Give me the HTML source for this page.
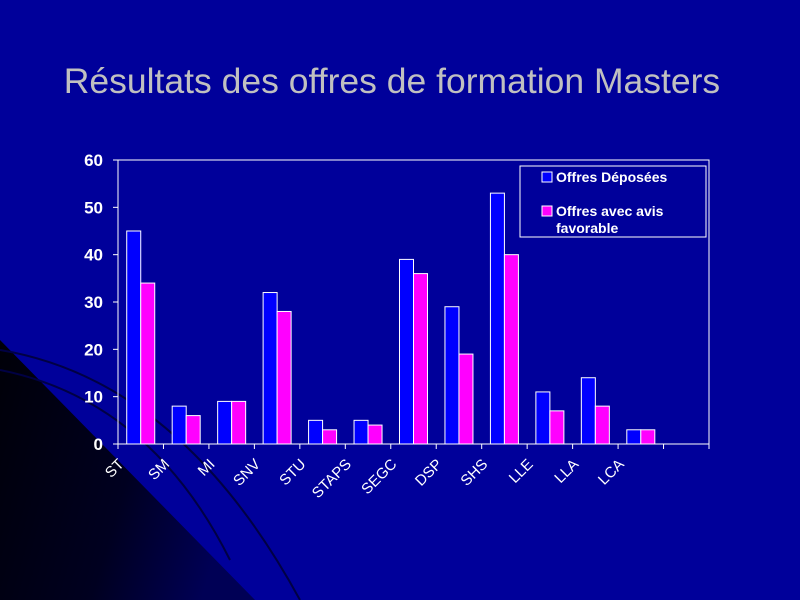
<!DOCTYPE html>
<html><head><meta charset="utf-8"><style>
body{margin:0;width:800px;height:600px;overflow:hidden;background:#000099;font-family:"Liberation Sans",sans-serif}
svg{display:block}
</style></head><body>
<svg width="800" height="600">
<defs>
<linearGradient id="tri" x1="0" y1="0" x2="1" y2="0.3">
<stop offset="0" stop-color="#000008"/><stop offset="0.6" stop-color="#000020"/><stop offset="1" stop-color="#000055"/></linearGradient>
</defs>
<rect width="800" height="600" fill="#00009a"/>
<polygon points="0,340 0,600 255,600" fill="url(#tri)"/>
<path d="M0,350 Q180,380 300,600" stroke="#000044" stroke-width="2" fill="none"/>
<path d="M0,370 Q150,400 230,560" stroke="#000044" stroke-width="2" fill="none"/>
<text x="392" y="93" font-size="35.5" fill="#c0c0c0" text-anchor="middle">Résultats des offres de formation Masters</text>
<g id="chart"></g>
<g>
<rect x="520" y="166" width="186" height="71" fill="none" stroke="#fff" stroke-width="1"/>
<rect x="542" y="172" width="10" height="10" fill="#0000ff" stroke="#fff"/>
<text x="556" y="182" font-size="14" font-weight="bold" fill="#fff">Offres Déposées</text>
<rect x="542" y="206" width="10" height="10" fill="#ff00ff" stroke="#fff"/>
<text x="556" y="216" font-size="14" font-weight="bold" fill="#fff">Offres avec avis</text>
<text x="556" y="233" font-size="14" font-weight="bold" fill="#fff">favorable</text>
</g>
</svg>
<script>
const categories=["ST","SM","MI","SNV","STU","STAPS","SEGC","DSP","SHS","LLE","LLA","LCA",""];
const deposees=[45,8,9,32,5,5,39,29,53,11,14,3,null];
const favorables=[34,6,9,28,3,4,36,19,40,7,8,3,null];
const yTicks=[0,10,20,30,40,50,60];
const L=118,R=709,T=160,B=444,yMax=60;
const band=(R-L)/categories.length;
const y=v=>B-(v/yMax)*(B-T);
const xc=i=>L+band*(i+0.5);
const g=document.getElementById('chart');
const NS="http://www.w3.org/2000/svg";
function mk(t,a){const e=document.createElementNS(NS,t);for(const k in a)e.setAttribute(k,a[k]);g.appendChild(e);return e;}
let f=mk('rect',{x:L,y:T,width:R-L,height:B-T,fill:'none',stroke:'#fff','stroke-width':1});


yTicks.forEach(t=>{
 let l=mk('line',{x1:L-5,x2:L,y1:y(t),y2:y(t),stroke:'#fff'});
 
 
 let tx=mk('text',{x:L-15,y:y(t)+6,'font-size':17,'font-weight':'bold',fill:'#fff','text-anchor':'end'});
 tx.textContent=t;
 
 
});
for(let i=0;i<=categories.length;i++){
 let l=mk('line',{x1:L+band*i,x2:L+band*i,y1:B,y2:B+5,stroke:'#fff'});
 
 
}
const bw=14;
categories.forEach((c,i)=>{
 if(deposees[i]!=null){
  let b=mk('rect',{x:xc(i)-bw,y:y(deposees[i]),width:bw,height:B-y(deposees[i]),fill:'#0000ff',stroke:'#fff','stroke-width':1});
  
  
 }
 if(favorables[i]!=null){
  let b=mk('rect',{x:xc(i),y:y(favorables[i]),width:bw,height:B-y(favorables[i]),fill:'#ff00ff',stroke:'#fff','stroke-width':1});
  
  
 }
 if(c){
  let tx=mk('text',{x:0,y:0,'font-size':15,fill:'#fff','text-anchor':'end',transform:`translate(${xc(i)-16},${B+21}) rotate(-45)`});
  tx.textContent=c;
  
  
 }
});
</script>
</body></html>
